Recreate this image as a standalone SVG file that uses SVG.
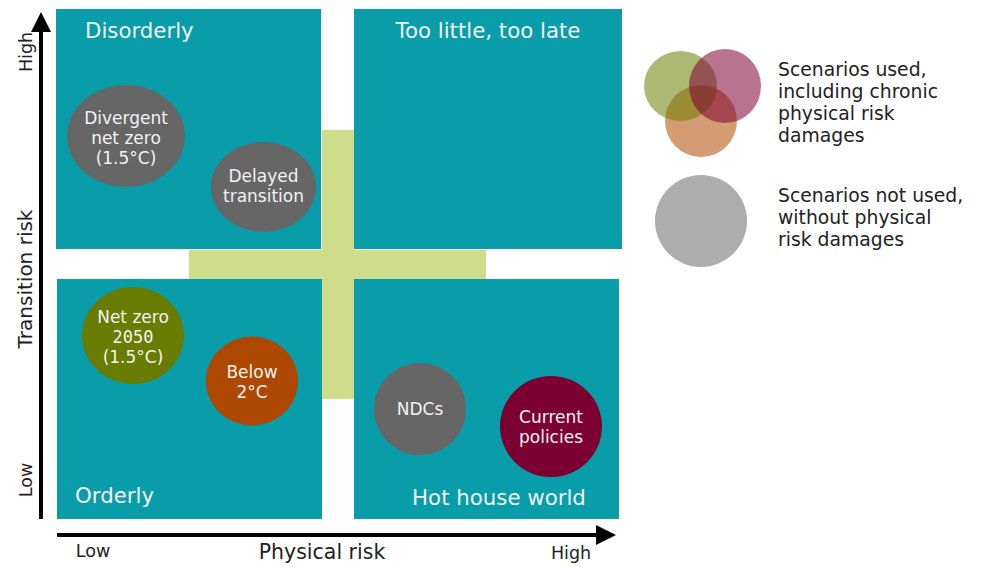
<svg xmlns="http://www.w3.org/2000/svg" width="991" height="567" viewBox="0 0 991 567">
<style>
.quad{fill:#089da8}
.cross{fill:#cfdd8a}
.t{font-family:"DejaVu Sans","Liberation Sans",sans-serif}
.ql{fill:#f2f2f2;font-size:21.3px}
.nl{fill:#f2f2f2;font-size:17px;text-anchor:middle}
.ax{fill:#222;font-size:17.5px}
.lg{fill:#222;font-size:18.8px}
.axis{stroke:#000;stroke-width:4;fill:none}
</style>
<defs>
<marker id="ah" markerWidth="5" markerHeight="5" refX="2.5" refY="2.5" orient="auto" markerUnits="strokeWidth">
<path d="M0,0 L5,2.5 L0,5 z" fill="#000"/>
</marker>
</defs>
<rect width="991" height="567" fill="#fff"/>
<g id="cross">
<rect class="cross" x="322" y="130" width="32" height="269"/>
<rect class="cross" x="189" y="250" width="297" height="29"/>
</g>
<g id="q-disorderly">
<rect class="quad" x="56" y="9" width="265" height="240"/>
<text class="t ql" x="85" y="38">Disorderly</text>
</g>
<g id="q-toolittle">
<rect class="quad" x="354" y="9" width="268" height="240"/>
<text class="t ql" x="488" y="38" text-anchor="middle">Too little, too late</text>
</g>
<g id="q-orderly">
<rect class="quad" x="57" y="279" width="265" height="240"/>
<text class="t ql" x="75" y="503">Orderly</text>
</g>
<g id="q-hothouse">
<rect class="quad" x="354" y="279" width="265" height="240"/>
<text class="t ql" x="499" y="505" text-anchor="middle">Hot house world</text>
</g>
<g id="n-divergent">
<ellipse cx="126" cy="136" rx="59" ry="51" fill="#666"/>
<text class="t nl" x="126" y="124">Divergent</text>
<text class="t nl" x="126" y="144">net zero</text>
<text class="t nl" x="126" y="164">(1.5°C)</text>
</g>
<g id="n-delayed">
<ellipse cx="263.5" cy="187" rx="52.5" ry="45" fill="#666"/>
<text class="t nl" x="263.5" y="182">Delayed</text>
<text class="t nl" x="263.5" y="202">transition</text>
</g>
<g id="n-netzero">
<ellipse cx="133" cy="335.5" rx="51" ry="48.5" fill="#687d00"/>
<text class="t nl" x="133" y="323">Net zero</text>
<text class="nl" x="133" y="343" font-family="'DejaVu Sans Mono',monospace">2050</text>
<text class="t nl" x="133" y="363">(1.5°C)</text>
</g>
<g id="n-below2">
<ellipse cx="252" cy="381" rx="46" ry="44.5" fill="#ae4700"/>
<text class="t nl" x="252" y="378">Below</text>
<text class="t nl" x="252" y="398">2°C</text>
</g>
<g id="n-ndcs">
<circle cx="420" cy="409" r="46" fill="#666"/>
<text class="t nl" x="420" y="415">NDCs</text>
</g>
<g id="n-current">
<ellipse cx="551" cy="426.5" rx="51" ry="50.5" fill="#7c0032"/>
<text class="t nl" x="551" y="423">Current</text>
<text class="t nl" x="551" y="443">policies</text>
</g>
<g id="connectors">
<line class="axis" x1="41" y1="519" x2="41" y2="22" marker-end="url(#ah)"/>
<line class="axis" x1="57" y1="535" x2="606" y2="535" marker-end="url(#ah)"/>
</g>
<g id="axis-labels">
<text class="t ax" transform="translate(32,52) rotate(-90)" text-anchor="middle">High</text>
<text class="t" transform="translate(32,279) rotate(-90)" text-anchor="middle" font-size="20" fill="#222">Transition risk</text>
<text class="t ax" transform="translate(32,480) rotate(-90)" text-anchor="middle">Low</text>
<text class="t ax" x="93" y="557" text-anchor="middle">Low</text>
<text class="t" x="322" y="559" text-anchor="middle" font-size="20.5" fill="#222">Physical risk</text>
<text class="t ax" x="571" y="559" text-anchor="middle">High</text>
</g>
<g id="legend-used">
<ellipse cx="701" cy="121" rx="36" ry="36" fill="#b04a00" fill-opacity="0.55"/>
<ellipse cx="680.5" cy="86" rx="36.5" ry="35" fill="#6a7e00" fill-opacity="0.55"/>
<ellipse cx="725" cy="86" rx="36" ry="37" fill="#7d0033" fill-opacity="0.55"/>
<text class="t lg" x="778" y="76">Scenarios used,</text>
<text class="t lg" x="778" y="98">including chronic</text>
<text class="t lg" x="778" y="120">physical risk</text>
<text class="t lg" x="778" y="142">damages</text>
</g>
<g id="legend-notused">
<circle cx="701" cy="221" r="46" fill="#adadad"/>
<text class="t lg" x="778" y="202">Scenarios not used,</text>
<text class="t lg" x="778" y="224">without physical</text>
<text class="t lg" x="778" y="246">risk damages</text>
</g>
</svg>
